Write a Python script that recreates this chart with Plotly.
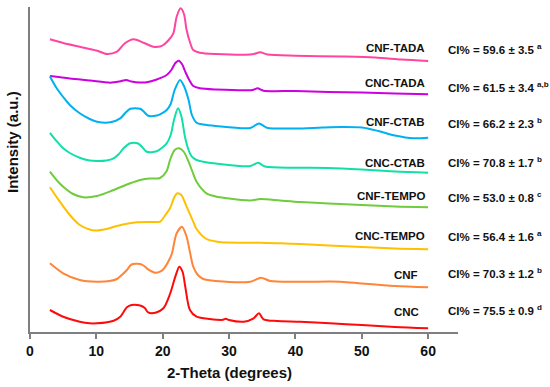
import plotly.graph_objects as go

# ---- data ----
names = ["CNF-TADA", "CNC-TADA", "CNF-CTAB", "CNC-CTAB", "CNF-TEMPO", "CNC-TEMPO", "CNF", "CNC"]
ci_labels = ["CI% = 59.6 ± 3.5", "CI% = 61.5 ± 3.4", "CI% = 66.2 ± 2.3", "CI% = 70.8 ± 1.7",
             "CI% = 53.0 ± 0.8", "CI% = 56.4 ± 1.6", "CI% = 70.3 ± 1.2", "CI% = 75.5 ± 0.9"]
ci_letters = ["a", "a,b", "b", "b", "c", "a", "b", "d"]
x_ticks = [0, 10, 20, 30, 40, 50, 60]

x_cnf_tada = [3, 5, 7.5, 10, 11.6, 13.1, 14.3, 15.6, 17.1, 18.6, 19.6, 20.1, 20.9, 21.6, 22.1, 22.7, 23.2, 23.6, 24.1, 24.6, 25.6, 28, 33.5, 34.7, 35.8, 40, 47, 52, 56, 60]
y_cnf_tada = [292.7, 289, 285.3, 281.5, 278, 280.3, 288.7, 292.7, 289.3, 285.3, 285.5, 287, 292, 298.7, 315.3, 323.7, 318, 302, 290, 282, 279.3, 278, 277.7, 279.7, 277.5, 276.3, 275.5, 274.5, 272.5, 271]

x_cnc_tada = [3, 6, 9, 12.1, 13.5, 14.5, 15.3, 16.5, 17.6, 19.1, 20.6, 21.3, 21.9, 22.4, 22.9, 23.4, 24, 24.6, 25.6, 28, 33.5, 34.3, 35.2, 40, 45, 50, 55, 60]
y_cnc_tada = [256, 253.5, 251.5, 249.3, 250.5, 252, 250.5, 249.5, 249.7, 252.5, 257, 262, 269, 271.3, 268, 260.3, 252, 246, 243.7, 242.5, 242, 243.7, 241.3, 241, 240, 239.5, 238.5, 237.7]

x_cnf_ctab = [3, 4, 5, 6, 7.5, 9, 10.1, 12.1, 13.6, 14.5, 15.1, 16.6, 17.2, 17.8, 19.1, 19.6, 20.6, 21.2, 21.8, 22.6, 23.2, 23.9, 24.4, 25.1, 26.1, 28, 33.2, 34.5, 35.7, 40, 44, 47, 50, 52.5, 55, 57.8, 60]
y_cnf_ctab = [255.5, 244, 235, 227, 218.7, 213, 210.3, 209.7, 213.7, 220, 223.3, 223.3, 220, 216.3, 216.5, 217.7, 222, 228, 242, 252, 246, 232, 217, 209.3, 207.5, 206, 204, 208.5, 204.3, 203.5, 204.5, 205, 204.5, 201, 196.5, 193.7, 194.3]

x_cnc_ctab = [3, 4, 5, 6, 7.5, 9, 10.1, 11.5, 12.6, 13.4, 14.1, 15.1, 16.3, 16.9, 17.6, 19.1, 20.6, 21.2, 21.7, 22.3, 22.8, 23.4, 23.9, 24.4, 25.1, 26.1, 28, 33.2, 34.4, 35.4, 40, 45, 50, 55, 60]
y_cnc_ctab = [199.2, 191, 183.7, 179, 174.3, 171.5, 171, 171.5, 173.7, 178, 183.7, 188.7, 188.5, 185, 180.3, 180.7, 188.7, 197, 212, 223.7, 216, 193.7, 182, 175.3, 172, 170.3, 168.5, 166, 169.3, 165.5, 164.3, 164, 162.5, 160.5, 159.3]

x_cnf_tempo = [3, 4, 5, 6.5, 8, 10.1, 12.6, 15.1, 16.6, 18, 19.1, 19.6, 20.6, 21.1, 21.8, 22.5, 23.2, 23.9, 24.5, 25.1, 26.6, 28, 29.7, 33.2, 34.7, 37.7, 40.7, 45, 50, 55, 60]
y_cnf_tempo = [160.3, 152, 145.3, 138, 134.7, 136, 142, 148.7, 152, 153.5, 153.5, 154, 161, 172, 182, 183.7, 180, 170.3, 160, 150.3, 138.7, 135.5, 133.7, 131.5, 133, 131.5, 130, 128.5, 127, 125.5, 124.7]

x_cnc_tempo = [3, 4.5, 6, 7.5, 9, 9.8, 11.5, 13.1, 16.1, 18.5, 19.6, 20.4, 21.1, 21.7, 22.2, 22.8, 23.6, 24.6, 25.1, 26.6, 28.2, 29.7, 34.7, 37.7, 40.7, 45, 50, 55, 60]
y_cnc_tempo = [144.7, 130.3, 117, 107, 102.5, 101.5, 103, 106, 109.7, 110, 110.3, 117, 123.7, 134, 138.7, 137, 125.3, 110.3, 103, 93, 90.3, 89.5, 89.3, 88.7, 88, 86.5, 85, 83.5, 82.7]

x_cnf = [3, 5, 7.5, 10.1, 12, 13.1, 14, 14.6, 15.3, 16.6, 17.2, 17.8, 18.9, 19.6, 20.1, 21.1, 21.4, 22.1, 22.9, 23.6, 24.1, 24.6, 25.3, 26.1, 28, 33.2, 34.8, 36.2, 40.7, 46.8, 50, 55, 60]
y_cnf = [68.7, 58.7, 52, 50.3, 51, 53, 58, 62, 67.5, 68, 66, 62.7, 59.3, 60.3, 62.7, 73.7, 78.7, 98.7, 105.3, 95.3, 80, 65.3, 57, 53, 51, 50.3, 54.3, 51, 50.3, 50.3, 48.5, 46, 44.7]

x_cnc = [3, 5, 7.5, 9, 10.1, 12.6, 13.6, 14.6, 15.3, 16.6, 17.3, 17.8, 18.9, 20.1, 21.1, 21.9, 22.5, 23, 23.4, 24.1, 25.1, 27.1, 29.1, 29.5, 30, 32.2, 33.7, 34.5, 35.2, 37.2, 40.7, 45.2, 50, 55, 60]
y_cnc = [22, 15.3, 10.3, 8.7, 8.7, 11.3, 15.3, 24.7, 27, 26.5, 24, 19.7, 19.3, 23.7, 38, 55.3, 65.3, 60, 45.3, 22, 15.3, 13, 12.2, 13.3, 12, 10.3, 13.7, 18.7, 12.7, 11, 10.3, 8.7, 7, 5, 3.7]

series_x = [x_cnf_tada, x_cnc_tada, x_cnf_ctab, x_cnc_ctab, x_cnf_tempo, x_cnc_tempo, x_cnf, x_cnc]
series_y = [y_cnf_tada, y_cnc_tada, y_cnf_ctab, y_cnc_ctab, y_cnf_tempo, y_cnc_tempo, y_cnf, y_cnc]

# ---- styles / positions ----
colors = ["#FF45A0", "#CC00E0", "#00B0F0", "#10E0A8", "#6FCC3C", "#FFC000", "#FF8538", "#FF0A0A"]
name_x = [59.8, 59.8, 59.8, 59.8, 59.8, 59.8, 58.8, 58.9]
name_y = [283.7, 248.7, 210.3, 168.7, 136, 96, 57, 20.3]
ci_y = [282.7, 245.3, 208.7, 170.3, 134.7, 96, 58.7, 22]
ci_x = 62.7

fig = go.Figure()
for xs, ys, c, n in zip(series_x, series_y, colors, names):
    fig.add_trace(go.Scatter(x=xs, y=ys, mode="lines", name=n,
                             line=dict(color=c, width=2, shape="spline", smoothing=0.8),
                             showlegend=False, hoverinfo="skip"))

font_family = "Liberation Sans, Arial, sans-serif"
annotations = []
for n, nx, ny in zip(names, name_x, name_y):
    annotations.append(dict(x=nx, y=ny, xref="x", yref="y", text=n, showarrow=False,
                            xanchor="right", yanchor="middle",
                            font=dict(family=font_family, size=11.5, color="#111111", weight="bold")))
for t, s, cy in zip(ci_labels, ci_letters, ci_y):
    annotations.append(dict(x=ci_x, y=cy, xref="x", yref="y", text=f"{t} <sup>{s}</sup>",
                            showarrow=False, xanchor="left", yanchor="middle",
                            font=dict(family=font_family, size=11.5, color="#111111", weight="bold")))
# axis titles
annotations.append(dict(x=30, y=-0.126, xref="x", yref="paper", text="2-Theta (degrees)",
                        showarrow=False, xanchor="center", yanchor="middle",
                        font=dict(family=font_family, size=15, color="#111111", weight="bold")))
annotations.append(dict(x=-0.041, y=0.586, xref="paper", yref="paper", text="Intensity (a.u.)",
                        showarrow=False, xanchor="center", yanchor="middle", textangle=-90,
                        font=dict(family=font_family, size=15, color="#111111", weight="bold")))

fig.update_layout(
    width=550, height=387,
    margin=dict(l=30, r=92, t=7, b=55),
    paper_bgcolor="white", plot_bgcolor="white",
    annotations=annotations,
    xaxis=dict(range=[0, 64.5], tickvals=x_ticks, ticktext=[str(v) for v in x_ticks],
               ticks="outside", ticklen=5, tickwidth=1.5, tickcolor="#7F7F7F",
               showline=True, linecolor="#7F7F7F", linewidth=2, showgrid=False, zeroline=False,
               tickfont=dict(family=font_family, size=14, color="#111111", weight="bold")),
    yaxis=dict(range=[0, 325], showticklabels=False, ticks="", showline=True,
               linecolor="#7F7F7F", linewidth=2, showgrid=False, zeroline=False),
)

fig.write_html("out.html", config={"displayModeBar": False},
               post_script="document.body.style.margin='0';document.body.style.padding='0';"
                           "document.documentElement.style.overflow='hidden';")
